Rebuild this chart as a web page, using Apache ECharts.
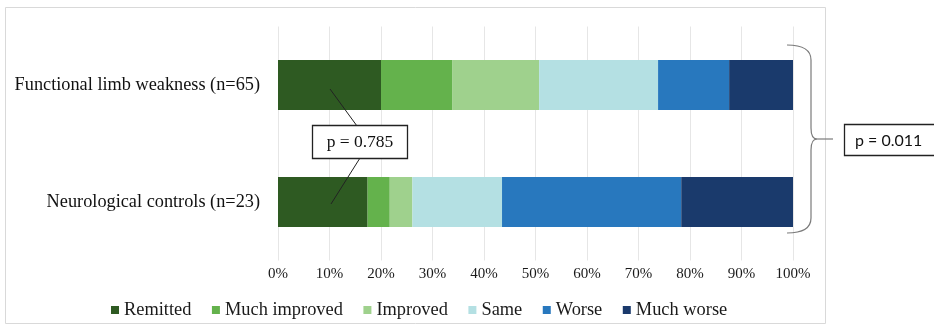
<!DOCTYPE html>
<html>
<head>
<meta charset="utf-8">
<script src="https://cdn.jsdelivr.net/npm/echarts@6/dist/echarts.min.js"></script>
<style>
  html, body { margin: 0; padding: 0; background: #ffffff; }
  #chart { width: 934px; height: 326px; }
</style>
</head>
<body>
<div id="chart"></div>
<script>
// Outcome at follow-up, percentage of each group
const groups = ['Functional limb weakness (n=65)', 'Neurological controls (n=23)'];
const outcomes = ['Remitted', 'Much improved', 'Improved', 'Same', 'Worse', 'Much worse'];
const remitted     = [20.0, 17.4];
const muchImproved = [13.8, 4.3];
const improved     = [16.9, 4.4];
const same         = [23.1, 17.4];
const worse        = [13.8, 34.8];
const muchWorse    = [12.4, 21.7];
const tickValues   = [0, 10, 20, 30, 40, 50, 60, 70, 80, 90, 100];
const pWithin  = 'p = 0.785';
const pBetween = 'p = 0.011';

const seriesValues = [remitted, muchImproved, improved, same, worse, muchWorse];
const palette = ['#2e5a22', '#64b24c', '#9fd18d', '#b4e0e3', '#2878be', '#1a3a6c'];

const serif = '"Liberation Serif", "Times New Roman", serif';
const braceStyle = { stroke: '#7a7a7a', lineWidth: 1.2, fill: null };

const chart = echarts.init(document.getElementById('chart'), null, { renderer: 'canvas' });

const option = {
  backgroundColor: '#ffffff',
  animation: false,
  grid: { left: 278, right: 141, top: 26.5, bottom: 65.5, containLabel: false },
  legend: {
    data: outcomes,
    left: 106,
    top: 296,
    itemWidth: 8,
    itemHeight: 8,
    itemGap: 20.5,
    icon: 'rect',
    textStyle: { fontFamily: serif, fontSize: 18.4, color: '#1a1a1a' }
  },
  xAxis: {
    type: 'value',
    min: tickValues[0],
    max: tickValues[tickValues.length - 1],
    interval: 10,
    axisLine: { show: false },
    axisTick: { show: false },
    splitLine: { show: true, lineStyle: { color: '#e6e6e6', width: 1 } },
    axisLabel: {
      fontFamily: serif, fontSize: 15, color: '#1a1a1a', margin: 6,
      formatter: v => v + '%'
    }
  },
  yAxis: {
    type: 'category',
    data: groups,
    inverse: true,
    axisLine: { show: false },
    axisTick: { show: false },
    axisLabel: { fontFamily: serif, fontSize: 18.3, color: '#111', margin: 18 }
  },
  series: outcomes.map((name, i) => ({
    name: name,
    type: 'bar',
    stack: 'outcome',
    barWidth: 50,
    itemStyle: { color: palette[i] },
    data: seriesValues[i]
  })),
  graphic: [
    // chart frame
    { type: 'rect', shape: { x: 5.5, y: 7.5, width: 820, height: 316 },
      style: { fill: null, stroke: '#d9d9d9', lineWidth: 1 }, silent: true, z: 0 },
    // connector lines for the within-group comparison
    { type: 'line', shape: { x1: 330, y1: 89, x2: 357, y2: 126 },
      style: { stroke: '#222', lineWidth: 1 }, z: 100 },
    { type: 'line', shape: { x1: 360, y1: 158, x2: 331, y2: 204 },
      style: { stroke: '#222', lineWidth: 1 }, z: 100 },
    { type: 'rect', shape: { x: 312.5, y: 125.5, width: 95, height: 33 },
      style: { fill: '#ffffff', stroke: '#222', lineWidth: 1.3 }, z: 101 },
    { type: 'text', x: 360, y: 142.5, z: 102,
      style: { text: pWithin, fontFamily: serif, fontSize: 17.5, fill: '#111',
               align: 'center', verticalAlign: 'middle' } },
    // right-hand brace for the between-group comparison
    { type: 'bezierCurve', z: 100, style: braceStyle,
      shape: { x1: 787, y1: 45, cpx1: 811, cpy1: 45, x2: 811, y2: 60 } },
    { type: 'line', z: 100, style: braceStyle,
      shape: { x1: 811, y1: 60, x2: 811, y2: 128 } },
    { type: 'bezierCurve', z: 100, style: braceStyle,
      shape: { x1: 811, y1: 128, cpx1: 811, cpy1: 139, x2: 817, y2: 139 } },
    { type: 'bezierCurve', z: 100, style: braceStyle,
      shape: { x1: 817, y1: 139, cpx1: 811, cpy1: 139, x2: 811, y2: 150 } },
    { type: 'line', z: 100, style: braceStyle,
      shape: { x1: 811, y1: 150, x2: 811, y2: 218 } },
    { type: 'bezierCurve', z: 100, style: braceStyle,
      shape: { x1: 811, y1: 218, cpx1: 811, cpy1: 233, x2: 787, y2: 233 } },
    { type: 'line', z: 100, style: braceStyle,
      shape: { x1: 817, y1: 139, x2: 833, y2: 139 } },
    { type: 'rect', shape: { x: 844.5, y: 124.5, width: 95, height: 31 },
      style: { fill: '#ffffff', stroke: '#222', lineWidth: 1.3 }, z: 101 },
    { type: 'text', x: 855, y: 140.5, z: 102,
      style: { text: pBetween, fontFamily: 'Lato, "Open Sans", sans-serif', fontSize: 16,
               fill: '#111', align: 'left', verticalAlign: 'middle' } }
  ]
};

chart.setOption(option);
</script>
</body>
</html>
